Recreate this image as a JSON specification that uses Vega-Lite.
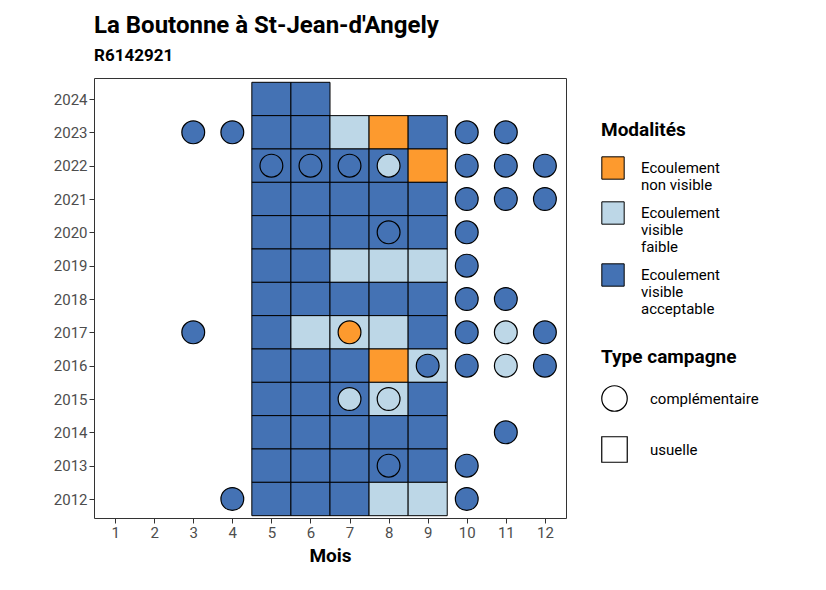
{
  "$schema": "https://vega.github.io/schema/vega-lite/v6.json",
  "width": 472,
  "height": 440,
  "padding": {"left": 53, "top": 14, "right": 10, "bottom": 5},
  "background": "white",
  "title": {
    "text": "La Boutonne à St-Jean-d'Angely",
    "subtitle": "R6142921",
    "anchor": "start",
    "frame": "group",
    "font": "Roboto",
    "fontSize": 24,
    "fontWeight": "bold",
    "subtitleFont": "Roboto",
    "subtitleFontSize": 17,
    "subtitleFontWeight": "bold",
    "subtitleColor": "black",
    "subtitlePadding": 10,
    "offset": 14
  },
  "datasets": {
    "tiles": [
      {"mois": 5, "annee": 2024, "modalite": "Ecoulement visible acceptable"},
      {"mois": 6, "annee": 2024, "modalite": "Ecoulement visible acceptable"},
      {"mois": 5, "annee": 2023, "modalite": "Ecoulement visible acceptable"},
      {"mois": 6, "annee": 2023, "modalite": "Ecoulement visible acceptable"},
      {"mois": 7, "annee": 2023, "modalite": "Ecoulement visible faible"},
      {"mois": 8, "annee": 2023, "modalite": "Ecoulement non visible"},
      {"mois": 9, "annee": 2023, "modalite": "Ecoulement visible acceptable"},
      {"mois": 5, "annee": 2022, "modalite": "Ecoulement visible acceptable"},
      {"mois": 6, "annee": 2022, "modalite": "Ecoulement visible acceptable"},
      {"mois": 7, "annee": 2022, "modalite": "Ecoulement visible acceptable"},
      {"mois": 8, "annee": 2022, "modalite": "Ecoulement visible acceptable"},
      {"mois": 9, "annee": 2022, "modalite": "Ecoulement non visible"},
      {"mois": 5, "annee": 2021, "modalite": "Ecoulement visible acceptable"},
      {"mois": 6, "annee": 2021, "modalite": "Ecoulement visible acceptable"},
      {"mois": 7, "annee": 2021, "modalite": "Ecoulement visible acceptable"},
      {"mois": 8, "annee": 2021, "modalite": "Ecoulement visible acceptable"},
      {"mois": 9, "annee": 2021, "modalite": "Ecoulement visible acceptable"},
      {"mois": 5, "annee": 2020, "modalite": "Ecoulement visible acceptable"},
      {"mois": 6, "annee": 2020, "modalite": "Ecoulement visible acceptable"},
      {"mois": 7, "annee": 2020, "modalite": "Ecoulement visible acceptable"},
      {"mois": 8, "annee": 2020, "modalite": "Ecoulement visible acceptable"},
      {"mois": 9, "annee": 2020, "modalite": "Ecoulement visible acceptable"},
      {"mois": 5, "annee": 2019, "modalite": "Ecoulement visible acceptable"},
      {"mois": 6, "annee": 2019, "modalite": "Ecoulement visible acceptable"},
      {"mois": 7, "annee": 2019, "modalite": "Ecoulement visible faible"},
      {"mois": 8, "annee": 2019, "modalite": "Ecoulement visible faible"},
      {"mois": 9, "annee": 2019, "modalite": "Ecoulement visible faible"},
      {"mois": 5, "annee": 2018, "modalite": "Ecoulement visible acceptable"},
      {"mois": 6, "annee": 2018, "modalite": "Ecoulement visible acceptable"},
      {"mois": 7, "annee": 2018, "modalite": "Ecoulement visible acceptable"},
      {"mois": 8, "annee": 2018, "modalite": "Ecoulement visible acceptable"},
      {"mois": 9, "annee": 2018, "modalite": "Ecoulement visible acceptable"},
      {"mois": 5, "annee": 2017, "modalite": "Ecoulement visible acceptable"},
      {"mois": 6, "annee": 2017, "modalite": "Ecoulement visible faible"},
      {"mois": 7, "annee": 2017, "modalite": "Ecoulement visible faible"},
      {"mois": 8, "annee": 2017, "modalite": "Ecoulement visible faible"},
      {"mois": 9, "annee": 2017, "modalite": "Ecoulement visible acceptable"},
      {"mois": 5, "annee": 2016, "modalite": "Ecoulement visible acceptable"},
      {"mois": 6, "annee": 2016, "modalite": "Ecoulement visible acceptable"},
      {"mois": 7, "annee": 2016, "modalite": "Ecoulement visible acceptable"},
      {"mois": 8, "annee": 2016, "modalite": "Ecoulement non visible"},
      {"mois": 9, "annee": 2016, "modalite": "Ecoulement visible faible"},
      {"mois": 5, "annee": 2015, "modalite": "Ecoulement visible acceptable"},
      {"mois": 6, "annee": 2015, "modalite": "Ecoulement visible acceptable"},
      {"mois": 7, "annee": 2015, "modalite": "Ecoulement visible acceptable"},
      {"mois": 8, "annee": 2015, "modalite": "Ecoulement visible faible"},
      {"mois": 9, "annee": 2015, "modalite": "Ecoulement visible acceptable"},
      {"mois": 5, "annee": 2014, "modalite": "Ecoulement visible acceptable"},
      {"mois": 6, "annee": 2014, "modalite": "Ecoulement visible acceptable"},
      {"mois": 7, "annee": 2014, "modalite": "Ecoulement visible acceptable"},
      {"mois": 8, "annee": 2014, "modalite": "Ecoulement visible acceptable"},
      {"mois": 9, "annee": 2014, "modalite": "Ecoulement visible acceptable"},
      {"mois": 5, "annee": 2013, "modalite": "Ecoulement visible acceptable"},
      {"mois": 6, "annee": 2013, "modalite": "Ecoulement visible acceptable"},
      {"mois": 7, "annee": 2013, "modalite": "Ecoulement visible acceptable"},
      {"mois": 8, "annee": 2013, "modalite": "Ecoulement visible acceptable"},
      {"mois": 9, "annee": 2013, "modalite": "Ecoulement visible acceptable"},
      {"mois": 5, "annee": 2012, "modalite": "Ecoulement visible acceptable"},
      {"mois": 6, "annee": 2012, "modalite": "Ecoulement visible acceptable"},
      {"mois": 7, "annee": 2012, "modalite": "Ecoulement visible acceptable"},
      {"mois": 8, "annee": 2012, "modalite": "Ecoulement visible faible"},
      {"mois": 9, "annee": 2012, "modalite": "Ecoulement visible faible"}
    ],
    "points": [
      {"mois": 3, "annee": 2023, "modalite": "Ecoulement visible acceptable", "type": "complémentaire"},
      {"mois": 4, "annee": 2023, "modalite": "Ecoulement visible acceptable", "type": "complémentaire"},
      {"mois": 10, "annee": 2023, "modalite": "Ecoulement visible acceptable", "type": "complémentaire"},
      {"mois": 11, "annee": 2023, "modalite": "Ecoulement visible acceptable", "type": "complémentaire"},
      {"mois": 5, "annee": 2022, "modalite": "Ecoulement visible acceptable", "type": "complémentaire"},
      {"mois": 6, "annee": 2022, "modalite": "Ecoulement visible acceptable", "type": "complémentaire"},
      {"mois": 7, "annee": 2022, "modalite": "Ecoulement visible acceptable", "type": "complémentaire"},
      {"mois": 8, "annee": 2022, "modalite": "Ecoulement visible faible", "type": "complémentaire"},
      {"mois": 10, "annee": 2022, "modalite": "Ecoulement visible acceptable", "type": "complémentaire"},
      {"mois": 11, "annee": 2022, "modalite": "Ecoulement visible acceptable", "type": "complémentaire"},
      {"mois": 12, "annee": 2022, "modalite": "Ecoulement visible acceptable", "type": "complémentaire"},
      {"mois": 10, "annee": 2021, "modalite": "Ecoulement visible acceptable", "type": "complémentaire"},
      {"mois": 11, "annee": 2021, "modalite": "Ecoulement visible acceptable", "type": "complémentaire"},
      {"mois": 12, "annee": 2021, "modalite": "Ecoulement visible acceptable", "type": "complémentaire"},
      {"mois": 8, "annee": 2020, "modalite": "Ecoulement visible acceptable", "type": "complémentaire"},
      {"mois": 10, "annee": 2020, "modalite": "Ecoulement visible acceptable", "type": "complémentaire"},
      {"mois": 10, "annee": 2019, "modalite": "Ecoulement visible acceptable", "type": "complémentaire"},
      {"mois": 10, "annee": 2018, "modalite": "Ecoulement visible acceptable", "type": "complémentaire"},
      {"mois": 11, "annee": 2018, "modalite": "Ecoulement visible acceptable", "type": "complémentaire"},
      {"mois": 3, "annee": 2017, "modalite": "Ecoulement visible acceptable", "type": "complémentaire"},
      {"mois": 7, "annee": 2017, "modalite": "Ecoulement non visible", "type": "complémentaire"},
      {"mois": 10, "annee": 2017, "modalite": "Ecoulement visible acceptable", "type": "complémentaire"},
      {"mois": 11, "annee": 2017, "modalite": "Ecoulement visible faible", "type": "complémentaire"},
      {"mois": 12, "annee": 2017, "modalite": "Ecoulement visible acceptable", "type": "complémentaire"},
      {"mois": 9, "annee": 2016, "modalite": "Ecoulement visible acceptable", "type": "complémentaire"},
      {"mois": 10, "annee": 2016, "modalite": "Ecoulement visible acceptable", "type": "complémentaire"},
      {"mois": 11, "annee": 2016, "modalite": "Ecoulement visible faible", "type": "complémentaire"},
      {"mois": 12, "annee": 2016, "modalite": "Ecoulement visible acceptable", "type": "complémentaire"},
      {"mois": 7, "annee": 2015, "modalite": "Ecoulement visible faible", "type": "complémentaire"},
      {"mois": 8, "annee": 2015, "modalite": "Ecoulement visible faible", "type": "complémentaire"},
      {"mois": 11, "annee": 2014, "modalite": "Ecoulement visible acceptable", "type": "complémentaire"},
      {"mois": 8, "annee": 2013, "modalite": "Ecoulement visible acceptable", "type": "complémentaire"},
      {"mois": 10, "annee": 2013, "modalite": "Ecoulement visible acceptable", "type": "complémentaire"},
      {"mois": 4, "annee": 2012, "modalite": "Ecoulement visible acceptable", "type": "complémentaire"},
      {"mois": 10, "annee": 2012, "modalite": "Ecoulement visible acceptable", "type": "complémentaire"}
    ]
  },
  "encoding": {
    "x": {
      "field": "mois", "type": "quantitative", "title": "Mois",
      "scale": {"domain": [0.46, 12.54], "nice": false, "zero": false},
      "axis": {"values": [1,2,3,4,5,6,7,8,9,10,11,12], "grid": false, "format": "d",
        "labelFont": "Roboto", "labelFontSize": 15, "labelColor": "#4d4d4d",
        "titleFont": "Roboto", "titleFontSize": 19, "titleFontWeight": "bold", "titleColor": "black",
        "tickColor": "#333", "domain": false, "titlePadding": 6}
    },
    "y": {
      "field": "annee", "type": "quantitative", "title": null,
      "scale": {"domain": [2011.43, 2024.63], "nice": false, "zero": false},
      "axis": {"values": [2012,2013,2014,2015,2016,2017,2018,2019,2020,2021,2022,2023,2024], "grid": false, "format": "d",
        "labelFont": "Roboto", "labelFontSize": 15, "labelColor": "#4d4d4d",
        "tickColor": "#333", "domain": false}
    },
    "color": {
      "field": "modalite", "type": "nominal", "title": "Modalités",
      "scale": {
        "domain": ["Ecoulement non visible", "Ecoulement visible faible", "Ecoulement visible acceptable"],
        "range": ["#fd9a2e", "#bdd7e7", "#4472b4"]
      },
      "legend": {
        "orient": "none", "legendX": 507, "legendY": 43,
        "symbolType": "square", "symbolSize": 500, "symbolStrokeColor": "black", "symbolStrokeWidth": 1,
        "symbolOpacity": 1,
        "titleFont": "Roboto", "titleFontSize": 19, "titleFontWeight": "bold", "titleColor": "black",
        "labelFont": "Roboto", "labelFontSize": 15, "labelColor": "black",
        "labelExpr": "datum.label == 'Ecoulement non visible' ? ['Ecoulement', 'non visible'] : datum.label == 'Ecoulement visible faible' ? ['Ecoulement', 'visible', 'faible'] : ['Ecoulement', 'visible', 'acceptable']",
        "rowPadding": 6, "labelOffset": 16, "titlePadding": 16
      }
    }
  },
  "layer": [
    {
      "data": {"name": "tiles"},
      "mark": {"type": "rect", "width": 39.1, "height": 33.4, "stroke": "black", "strokeWidth": 1, "opacity": 1}
    },
    {
      "data": {"name": "points"},
      "mark": {"type": "point", "filled": true, "size": 520, "stroke": "black", "strokeWidth": 1.2, "opacity": 1},
      "encoding": {
        "shape": {
          "field": "type", "type": "nominal", "title": "Type campagne",
          "scale": {"domain": ["complémentaire", "usuelle"], "range": ["circle", "square"]},
          "legend": {
            "orient": "none", "legendX": 507, "legendY": 270,
            "symbolFillColor": "white", "symbolStrokeColor": "black", "symbolSize": 650, "symbolStrokeWidth": 1.2,
            "titleFont": "Roboto", "titleFontSize": 19, "titleFontWeight": "bold", "titleColor": "black",
            "labelFont": "Roboto", "labelFontSize": 15, "labelColor": "black",
            "rowPadding": 20, "labelOffset": 22, "titlePadding": 18
          }
        }
      }
    }
  ],
  "config": {
    "view": {"stroke": "#333", "strokeWidth": 1},
    "legend": {"padding": 0}
  }
}
